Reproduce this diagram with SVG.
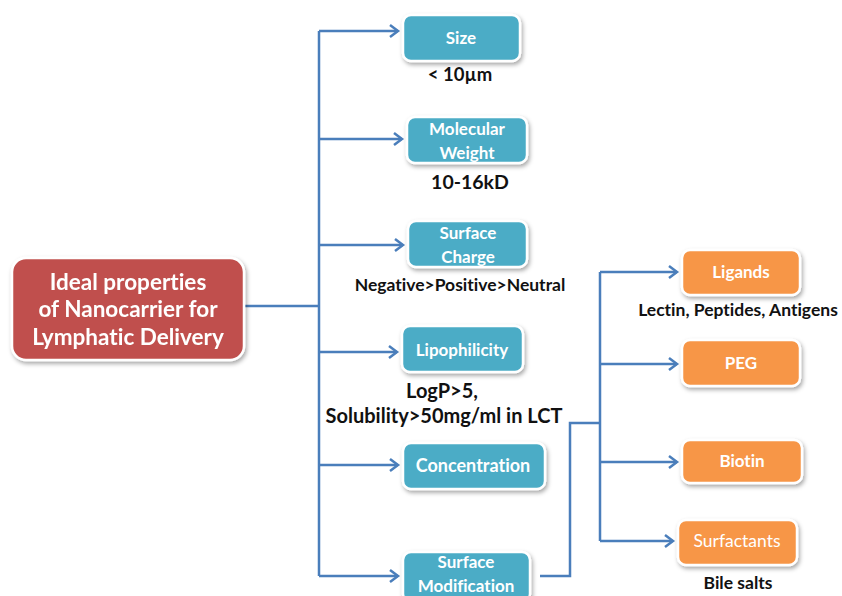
<svg xmlns="http://www.w3.org/2000/svg" width="842" height="596" viewBox="0 0 842 596">
<style>
text{font-variant-ligatures:none}
.lbl{font-family:Lato,"Open Sans","Liberation Sans",sans-serif;font-weight:bold;fill:#fff;text-anchor:middle;font-size:17px}
.note{font-family:Lato,"Open Sans","Liberation Sans",sans-serif;font-weight:bold;fill:#111;text-anchor:middle;font-size:17px}
.teal{fill:#4bacc6;stroke:#fff;stroke-width:2.5}
.orange{fill:#f79646;stroke:#fff;stroke-width:2.5}
.red{fill:#c0504d;stroke:#fff;stroke-width:2.5}
.conn{fill:none;stroke:#4a7ebb;stroke-width:2.5}
</style>
<defs>
<filter id="sh" x="-10%" y="-10%" width="130%" height="140%">
<feDropShadow dx="1.5" dy="2.5" stdDeviation="2" flood-color="#000" flood-opacity="0.35"/>
</filter>
</defs>
<rect width="842" height="596" fill="#fff"/>
<g id="connectors">
<path class="conn" d="M244,306 H319"/>
<path class="conn" d="M319,31 V576"/>
<path class="conn" d="M319,31 H398"/>
<path class="conn" d="M319,139 H402"/>
<path class="conn" d="M319,245 H403"/>
<path class="conn" d="M319,352 H397"/>
<path class="conn" d="M319,465 H398"/>
<path class="conn" d="M319,576 H398"/>
<path class="conn" d="M540,576 H570 V423 H600"/>
<path class="conn" d="M600,272 V541"/>
<path class="conn" d="M600,272 H677"/>
<path class="conn" d="M600,364 H677"/>
<path class="conn" d="M600,462 H677"/>
<path class="conn" d="M600,541 H673"/>
<g fill="none" stroke="#4a7ebb" stroke-width="2.5" stroke-linejoin="miter">
<path d="M390,25 L398,31 L390,37"/>
<path d="M394,133 L402,139 L394,145"/>
<path d="M395,239 L403,245 L395,251"/>
<path d="M389,346 L397,352 L389,358"/>
<path d="M390,459 L398,465 L390,471"/>
<path d="M390,570 L398,576 L390,582"/>
<path d="M669,266 L677,272 L669,278"/>
<path d="M669,358 L677,364 L669,370"/>
<path d="M669,456 L677,462 L669,468"/>
<path d="M665,535 L673,541 L665,547"/>
</g>
</g>
<g id="main" filter="url(#sh)">
<rect class="red" x="12" y="258" width="232" height="102" rx="14"/>
<text class="lbl" x="128" y="290" style="font-size:22.5px">Ideal properties</text>
<text class="lbl" x="128" y="317" style="font-size:22.5px">of Nanocarrier for</text>
<text class="lbl" x="128" y="345" style="font-size:22.5px">Lymphatic Delivery</text>
</g>
<g id="size">
<rect class="teal" x="403" y="15" width="117" height="46" rx="8" filter="url(#sh)"/>
<text class="lbl" x="461" y="44">Size</text>
<text class="note" x="460" y="81" style="font-size:18.5px">&lt; 10µm</text>
</g>
<g id="mw">
<rect class="teal" x="407" y="117" width="120" height="46" rx="8" filter="url(#sh)"/>
<text class="lbl" x="467" y="135">Molecular</text>
<text class="lbl" x="467" y="159">Weight</text>
<text class="note" x="470" y="189" style="font-size:19.5px">10-16kD</text>
</g>
<g id="charge">
<rect class="teal" x="408" y="221" width="119" height="46" rx="8" filter="url(#sh)"/>
<text class="lbl" x="468" y="239">Surface</text>
<text class="lbl" x="468" y="263">Charge</text>
<text class="note" x="460" y="291" style="font-size:17.5px">Negative&gt;Positive&gt;Neutral</text>
</g>
<g id="lipo">
<rect class="teal" x="402" y="326" width="121" height="46" rx="8" filter="url(#sh)"/>
<text class="lbl" x="462" y="356">Lipophilicity</text>
<text class="note" x="442" y="398" style="font-size:20px">LogP&gt;5,</text>
<text class="note" x="444" y="423" style="font-size:20px">Solubility&gt;50mg/ml in LCT</text>
</g>
<g id="conc">
<rect class="teal" x="403" y="443" width="142" height="46" rx="8" filter="url(#sh)"/>
<text class="lbl" x="473" y="472" style="font-size:18px">Concentration</text>
</g>
<g id="mod">
<rect class="teal" x="403" y="552" width="127" height="50" rx="8" filter="url(#sh)"/>
<text class="lbl" x="466" y="568">Surface</text>
<text class="lbl" x="466" y="592">Modification</text>
</g>
<g id="ligands">
<rect class="orange" x="682" y="250" width="118" height="45" rx="8" filter="url(#sh)"/>
<text class="lbl" x="741" y="278">Ligands</text>
<text class="note" x="738" y="316" style="font-size:17.5px">Lectin, Peptides,  Antigens</text>
</g>
<g id="peg">
<rect class="orange" x="682" y="340" width="118" height="46" rx="8" filter="url(#sh)"/>
<text class="lbl" x="741" y="369">PEG</text>
</g>
<g id="biotin">
<rect class="orange" x="682" y="440" width="120" height="43" rx="8" filter="url(#sh)"/>
<text class="lbl" x="742" y="467">Biotin</text>
</g>
<g id="surf">
<rect class="orange" x="678" y="520" width="119" height="45" rx="8" filter="url(#sh)"/>
<text class="lbl" x="737" y="547" style="font-weight:normal;font-size:17.5px">Surfactants</text>
<text class="note" x="738" y="589" style="font-size:17.5px">Bile salts</text>
</g>
</svg>
